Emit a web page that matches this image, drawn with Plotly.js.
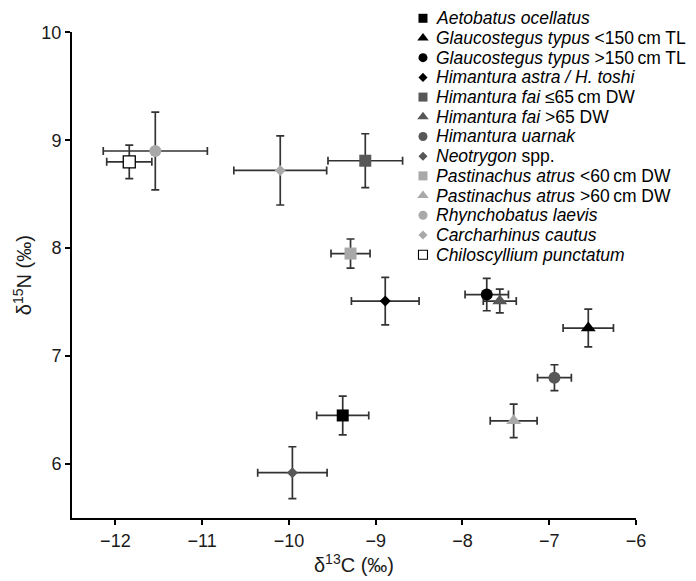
<!DOCTYPE html>
<html><head><meta charset="utf-8">
<script src="https://cdn.plot.ly/plotly-3.0.1.min.js"></script>
<style>html,body{margin:0;padding:0;background:#fff}</style>
</head><body><div id="chart" style="width:696px;height:581px"></div>
<script>
// ---- data ----
const species = [
  'Aetobatus ocellatus', 'Glaucostegus typus <150', 'Glaucostegus typus >150',
  'Himantura astra / H. toshi', 'Himantura fai <=65', 'Himantura fai >65',
  'Himantura uarnak', 'Neotrygon spp.', 'Pastinachus atrus <60',
  'Pastinachus atrus >60', 'Rhynchobatus laevis', 'Carcharhinus cautus',
  'Chiloscyllium punctatum'
];
const legendLabels = [
  '<i>Aetobatus ocellatus</i>',
  '<i>Glaucostegus typus</i> &lt;150\u2009cm TL',
  '<i>Glaucostegus typus</i> &gt;150\u2009cm TL',
  '<i>Himantura astra / H. toshi</i>',
  '<i>Himantura fai</i> \u226465\u2009cm DW',
  '<i>Himantura fai</i> &gt;65 DW',
  '<i>Himantura uarnak</i>',
  '<i>Neotrygon</i> spp.',
  '<i>Pastinachus atrus</i> &lt;60\u2009cm DW',
  '<i>Pastinachus atrus</i> &gt;60\u2009cm DW',
  '<i>Rhynchobatus laevis</i>',
  '<i>Carcharhinus cautus</i>',
  '<i>Chiloscyllium punctatum</i>'
];
const d13C    = [-9.38, -6.55, -7.72, -8.89, -9.12, -7.57, -6.94, -9.96, -9.29, -7.41, -11.54, -10.10, -11.84];
const d13C_sd = [0.30, 0.29, 0.25, 0.39, 0.43, 0.19, 0.195, 0.40, 0.225, 0.27, 0.60, 0.535, 0.26];
const d15N    = [6.45, 7.26, 7.57, 7.51, 8.81, 7.51, 6.80, 5.92, 7.95, 6.40, 8.90, 8.72, 8.80];
const d15N_sd = [0.18, 0.175, 0.15, 0.22, 0.25, 0.11, 0.12, 0.24, 0.135, 0.155, 0.36, 0.32, 0.155];
const xTicks = [-12, -11, -10, -9, -8, -7, -6];
const yTicks = [6, 7, 8, 9, 10];

// ---- styles ----
const BLACK = '#000000', DARK = '#575757', LIGHT = '#a9a9a9';
const symbols = ['square','triangle-up','circle','diamond','square','triangle-up','circle','diamond','square','triangle-up','circle','diamond','square'];
const fills   = [BLACK, BLACK, BLACK, BLACK, DARK, DARK, DARK, DARK, LIGHT, LIGHT, LIGHT, LIGHT, '#ffffff'];
const sizeBySymbol = {'square': 12, 'triangle-up': 13, 'circle': 12, 'diamond': 8.5};
const legSizeBySymbol = {'square': 9, 'triangle-up': 10, 'circle': 9, 'diamond': 7};
const lineW = species.map((s, i) => i === species.length - 1 ? 1.3 : 0);
const FONT = 'Liberation Sans, Arial, Helvetica, sans-serif';

const main = {
  type: 'scatter', mode: 'markers', xaxis: 'x', yaxis: 'y',
  x: d13C, y: d15N, text: species, cliponaxis: false,
  error_x: {type: 'data', array: d13C_sd, visible: true, color: '#333333', thickness: 1.7, width: 4},
  error_y: {type: 'data', array: d15N_sd, visible: true, color: '#333333', thickness: 1.7, width: 4},
  marker: {
    symbol: symbols, color: fills, opacity: 1,
    size: symbols.map(s => sizeBySymbol[s]),
    line: {color: '#000000', width: lineW}
  },
  showlegend: false, hoverinfo: 'skip'
};

const legendMarkers = {
  type: 'scatter', mode: 'markers', xaxis: 'x2', yaxis: 'y2',
  x: species.map(() => 0), y: species, cliponaxis: false,
  marker: {
    symbol: symbols, color: fills, opacity: 1,
    size: symbols.map(s => legSizeBySymbol[s]),
    line: {color: '#000000', width: lineW.map(w => w ? 1.1 : 0)}
  },
  showlegend: false, hoverinfo: 'skip'
};

const annotations = species.map((s, i) => ({
  xref: 'x2', yref: 'y2', x: 0, y: s, xanchor: 'left', yanchor: 'middle',
  xshift: 11, showarrow: false, text: legendLabels[i],
  font: {family: FONT, size: 17.5, color: '#000000'}
}));

const layout = {
  width: 696, height: 581,
  margin: {l: 72, r: 60, t: 5, b: 63},
  paper_bgcolor: '#ffffff', plot_bgcolor: '#ffffff',
  font: {family: FONT, size: 18, color: '#1a1a1a'},
  showlegend: false,
  xaxis: {
    range: [-12.5, -6], domain: [0, 1], anchor: 'y',
    tickvals: xTicks, ticks: 'outside', ticklen: 5, tickwidth: 2, tickcolor: '#000',
    showline: true, linecolor: '#000', linewidth: 2,
    showgrid: false, zeroline: false,
    tickfont: {family: FONT, size: 18, color: '#1a1a1a'},
    title: {text: '\u03b4<sup>13</sup>C (\u2030)', font: {family: FONT, size: 20, color: '#1a1a1a'}, standoff: 2}
  },
  yaxis: {
    range: [5.5, 10], domain: [0, 0.9468], anchor: 'x',
    tickvals: yTicks, ticks: 'outside', ticklen: 5, tickwidth: 2, tickcolor: '#000',
    showline: true, linecolor: '#000', linewidth: 2,
    showgrid: false, zeroline: false,
    tickfont: {family: FONT, size: 18, color: '#1a1a1a'},
    title: {text: '\u03b4<sup>15</sup>N (\u2030)', font: {family: FONT, size: 20, color: '#1a1a1a'}, standoff: 4}
  },
  xaxis2: {domain: [0.6223, 0.99], range: [0, 1], anchor: 'y2', visible: false, fixedrange: true},
  yaxis2: {domain: [0.4941, 0.9933], type: 'category', categoryorder: 'array', categoryarray: species,
           range: [12.5, -0.5], anchor: 'x2', visible: false, fixedrange: true},
  annotations: annotations
};

Plotly.newPlot('chart', [main, legendMarkers], layout, {staticPlot: true, displayModeBar: false});
</script></body></html>
